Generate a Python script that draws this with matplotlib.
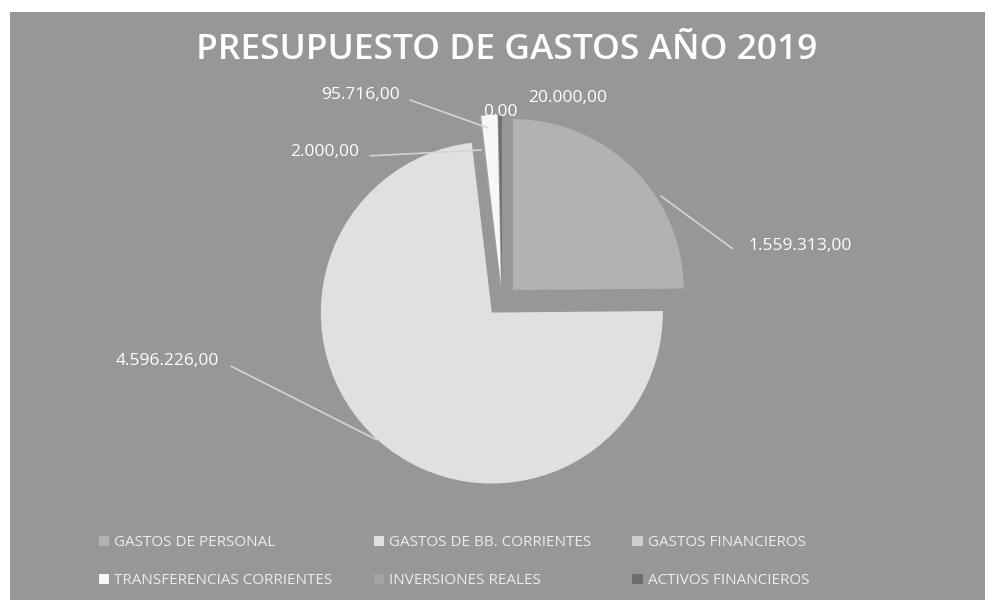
import numpy as np
import matplotlib.pyplot as plt
from matplotlib.patches import Rectangle

# data
categorias = ['GASTOS DE PERSONAL', 'GASTOS DE BB. CORRIENTES', 'GASTOS FINANCIEROS',
              'TRANSFERENCIAS CORRIENTES', 'INVERSIONES REALES', 'ACTIVOS FINANCIEROS']
importes = [1559313.00, 4596226.00, 2000.00, 95716.00, 0.00, 20000.00]
etiquetas = ['1.559.313,00', '4.596.226,00', '2.000,00', '95.716,00', '0,00', '20.000,00']

colores = ['#b2b2b2', '#e0e0e0', '#cfcfcf', '#f7f7f7', '#a3a3a3', '#6e6e6e']
fondo = '#979797'

W, H = 994, 600
CX, CY, R = 502, 301, 171  # pie centre / radius in pixels

plt.rcParams['font.family'] = ['Open Sans', 'DejaVu Sans']

fig = plt.figure(figsize=(W / 100, H / 100), dpi=100)
fig.patch.set_facecolor('white')
fig.patches.append(Rectangle((10 / W, 0), 975 / W, 588 / H, transform=fig.transFigure,
                             facecolor=fondo, edgecolor='none', zorder=-10))

half = 280
ax = fig.add_axes([(CX - half) / W, (H - CY - half) / H, 2 * half / W, 2 * half / H])

wedges, _ = ax.pie(importes, colors=colores, startangle=90, counterclock=False,
                   explode=[0.09] * len(importes), radius=1.0,
                   wedgeprops=dict(edgecolor='none'))
ax.set_xlim(-half / R, half / R)
ax.set_ylim(-half / R, half / R)
ax.set_aspect('equal')
ax.axis('off')

# label positions (figure pixels, top-left origin), anchor radius and angle shift on each wedge
pos_texto = [(800, 246), (167, 361), (325, 152), (360, 95), (500, 112), (568, 98)]
radio_ancla = [1.02, 1.0, 0.8, 0.92, None, None]
giro_ancla = [-12, 0, 0, 0, 0, 0]
fs_lab = 12.5

for w, txt, (px, py), ra, g in zip(wedges, etiquetas, pos_texto, radio_ancla, giro_ancla):
    ang = np.deg2rad((w.theta1 + w.theta2) / 2 + g)
    cx, cy = w.center
    if ra:
        xy = (cx + ra * w.r * np.cos(ang), cy + ra * w.r * np.sin(ang))
        off = 0.5 * len(txt) * 9.6
        start = (px + off + 4, H - py - 4) if px < CX else (px - off - 8, H - py - 4)
        ax.annotate('', xy=xy, xycoords='data', xytext=start, textcoords='figure pixels',
                    arrowprops=dict(arrowstyle='-', color='#d4d4d4', lw=1.2))
    fig.text(px / W, 1 - py / H, txt, color='white', fontsize=fs_lab, ha='center', va='center')

fig.text(0.51, 1 - 50 / H, 'PRESUPUESTO DE GASTOS AÑO 2019', color='white',
         fontsize=25.5, fontweight='semibold', ha='center', va='center')

orden = [0, 3, 1, 4, 2, 5]
leg = fig.legend([wedges[i] for i in orden], [categorias[i] for i in orden],
                 ncol=3, loc='lower left', bbox_to_anchor=(85 / W, -2 / H),
                 frameon=False, fontsize=11, labelcolor='#ececec',
                 handlelength=0.7, handleheight=0.7, handletextpad=0.3,
                 columnspacing=2.7, labelspacing=1.5)

fig.savefig('out.png', dpi=100, facecolor=fig.get_facecolor())
